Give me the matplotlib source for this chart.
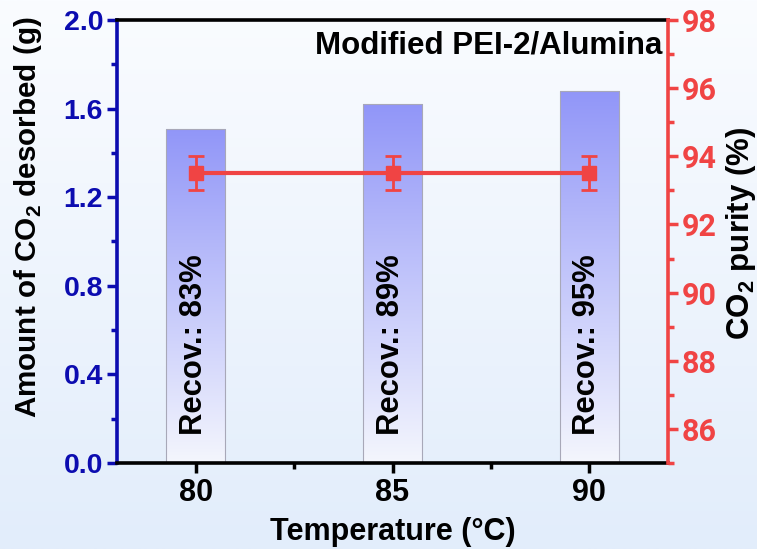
import numpy as np
import matplotlib
matplotlib.use("Agg")
import matplotlib.pyplot as plt
from matplotlib.colors import LinearSegmentedColormap

temps = [80, 85, 90]
amount = [1.51, 1.62, 1.68]
purity = [93.5, 93.5, 93.5]
purity_err = [0.5, 0.5, 0.5]
recov = ["Recov.: 83%", "Recov.: 89%", "Recov.: 95%"]

BLUE = "#0c0cb0"
RED = "#f04444"

plt.rcParams['font.family'] = ['Liberation Sans', 'DejaVu Sans']
plt.rcParams['font.weight'] = 'bold'
plt.rcParams['mathtext.fontset'] = 'custom'
plt.rcParams['mathtext.rm'] = 'Liberation Sans:bold'
plt.rcParams['mathtext.bf'] = 'Liberation Sans:bold'

fig = plt.figure(figsize=(7.57, 5.49), dpi=100)

# background gradient
bg = fig.add_axes([0, 0, 1, 1], zorder=-10)
grad = np.linspace(0, 1, 256).reshape(-1, 1)
bgcmap = LinearSegmentedColormap.from_list("bg", ["#fafcff", "#e2edfb"])
bg.imshow(grad, aspect='auto', cmap=bgcmap, extent=[0, 1, 0, 1], origin='upper')
bg.axis('off')

ax = fig.add_axes([117/757, 1-463/549, (668-117)/757, (463-20)/549])
ax.set_facecolor('none')

barcmap = LinearSegmentedColormap.from_list("bar", ["#f4f6fd", "#9196f8"])
bars = ax.bar(temps, amount, width=1.5, facecolor='none', edgecolor='#a8a8b8', linewidth=0.8, zorder=2)
for b in bars:
    x0 = b.get_x(); w = b.get_width(); h = b.get_height()
    im = ax.imshow(np.linspace(0, 1, 256).reshape(-1, 1), aspect='auto', cmap=barcmap,
                   extent=[x0, x0 + w, 0, h], origin='lower', zorder=1)
    im.set_clip_path(b)
ax.set_xlim(78, 92)
ax.set_ylim(0, 2.0)

for t, r in zip(temps, recov):
    ax.text(t - 0.05, 0.125, r, rotation=90, ha='center', va='bottom', fontsize=22.3,
            fontweight='bold', color='black', zorder=5)

ax.text(91.85, 1.885, "Modified PEI-2/Alumina", ha='right', va='center', fontsize=22.5,
        fontweight='bold', color='black')

ax.set_yticks([0, 0.4, 0.8, 1.2, 1.6, 2.0])
ax.set_yticks(np.arange(0.2, 2.0, 0.4), minor=True)
ax.set_yticklabels(["0.0", "0.4", "0.8", "1.2", "1.6", "2.0"])
ax.set_xticks(temps)
ax.set_xticks([82.5, 87.5], minor=True)
ax.set_xticklabels([str(t) for t in temps], fontsize=22)

ax.tick_params(axis='y', which='major', direction='out', length=7, width=2.5, colors=BLUE,
               labelsize=20.5, pad=3)
ax.tick_params(axis='y', which='minor', direction='out', length=4, width=2.5, colors=BLUE)
ax.tick_params(axis='x', which='major', direction='out', length=7, width=2.5, colors='black', pad=4)
ax.tick_params(axis='x', which='minor', direction='out', length=4, width=2.5, colors='black')
for lab in ax.get_yticklabels():
    lab.set_fontweight('bold')

for s in ['top', 'bottom']:
    ax.spines[s].set_linewidth(2.6)
    ax.spines[s].set_color('black')
ax.spines['left'].set_linewidth(2.6)
ax.spines['left'].set_color(BLUE)
ax.spines['right'].set_visible(False)

ax.set_xlabel("Temperature (°C)", fontsize=22, fontweight='bold', labelpad=6)
fig.text(28/757, 1-217/549, "Amount of CO$_\\mathbf{2}$ desorbed (g)", rotation=90, ha='center', va='center',
         fontsize=21.3, fontweight='bold')

ax2 = ax.twinx()
ax2.set_ylim(85, 98)
ax2.set_yticks([86, 88, 90, 92, 94, 96, 98])
ax2.set_yticks([85, 87, 89, 91, 93, 95, 97], minor=True)
ax2.errorbar(temps, purity, yerr=purity_err, color=RED, marker='s', markersize=10,
             linewidth=3, elinewidth=2, capsize=6, capthick=2, zorder=6)
for s in ['top', 'bottom', 'left']:
    ax2.spines[s].set_visible(False)
ax2.spines['right'].set_linewidth(2.6)
ax2.spines['right'].set_color(RED)
ax2.tick_params(axis='y', which='major', direction='out', length=7, width=2.5, colors=RED,
                labelsize=22, pad=3)
ax2.tick_params(axis='y', which='minor', direction='out', length=4, width=2.5, colors=RED)
for lab in ax2.get_yticklabels():
    lab.set_fontfamily('Roboto')
    lab.set_fontweight('bold')

fig.text(741/757, 1-233/549, "CO$_\\mathbf{2}$ purity (%)", rotation=90, ha='center', va='center',
         fontsize=22.5, fontweight='bold')

fig.savefig("out.png", dpi=100)
